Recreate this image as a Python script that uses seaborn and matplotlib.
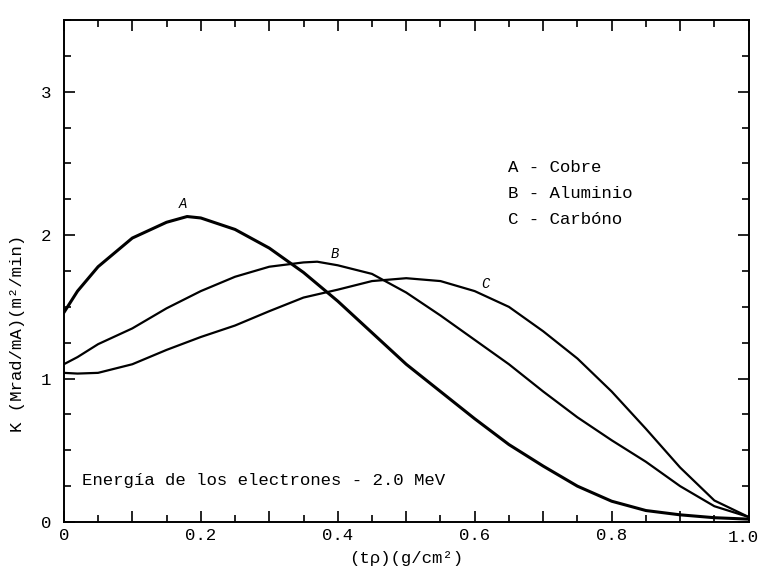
import matplotlib
matplotlib.use("Agg")
import matplotlib.pyplot as plt
from matplotlib.ticker import MultipleLocator, FuncFormatter
import pandas as pd
import seaborn as sns

# Dose rate K versus absorber depth for 2.0 MeV electrons
x_cobre = [0, 0.02, 0.05, 0.10, 0.15, 0.18, 0.20, 0.25, 0.30, 0.35, 0.40, 0.45,
           0.50, 0.55, 0.60, 0.65, 0.70, 0.75, 0.80, 0.85, 0.90, 0.95, 1.00]
k_cobre = [1.46, 1.61, 1.78, 1.98, 2.09, 2.13, 2.12, 2.04, 1.91, 1.74, 1.54, 1.32,
           1.10, 0.91, 0.72, 0.54, 0.39, 0.25, 0.145, 0.08, 0.05, 0.03, 0.02]

x_aluminio = [0, 0.02, 0.05, 0.10, 0.15, 0.20, 0.25, 0.30, 0.35, 0.37, 0.40, 0.45,
              0.50, 0.55, 0.60, 0.65, 0.70, 0.75, 0.80, 0.85, 0.90, 0.95, 1.00]
k_aluminio = [1.10, 1.15, 1.24, 1.35, 1.49, 1.61, 1.71, 1.78, 1.81, 1.815, 1.79, 1.73,
              1.60, 1.44, 1.27, 1.10, 0.91, 0.73, 0.57, 0.42, 0.25, 0.11, 0.035]

x_carbono = [0, 0.02, 0.05, 0.10, 0.15, 0.20, 0.25, 0.30, 0.35, 0.40, 0.45, 0.50,
             0.55, 0.60, 0.65, 0.70, 0.75, 0.80, 0.85, 0.90, 0.95, 1.00]
k_carbono = [1.04, 1.035, 1.04, 1.10, 1.20, 1.29, 1.37, 1.47, 1.565, 1.62, 1.68, 1.70,
             1.68, 1.61, 1.50, 1.33, 1.14, 0.91, 0.65, 0.38, 0.15, 0.035]

curve_tags = ["A", "B", "C"]
materials = ["Cobre", "Aluminio", "Carbóno"]
x_ticks_labelled = [0, 0.2, 0.4, 0.6, 0.8]
y_ticks_labelled = [0, 1, 2, 3]

sns.set_theme(style="ticks")
plt.rcParams["font.family"] = ["Liberation Mono", "DejaVu Sans Mono"]
plt.rcParams["text.color"] = "black"
plt.rcParams["axes.labelcolor"] = "black"
plt.rcParams["xtick.color"] = "black"
plt.rcParams["ytick.color"] = "black"

fig = plt.figure(figsize=(7.6, 5.73), dpi=100)
ax = fig.add_axes([0.084, 0.089, 0.901, 0.876])

series = [(x_cobre, k_cobre, 2.2), (x_aluminio, k_aluminio, 1.6), (x_carbono, k_carbono, 1.6)]
for (xs, ks, lw), tag in zip(series, curve_tags):
    df = pd.DataFrame({"depth": xs, "K": ks})
    sns.lineplot(data=df, x="depth", y="K", ax=ax, color="black", linewidth=lw,
                 sort=False, estimator=None)

ax.set_xlim(0, 1.0)
ax.set_ylim(0, 3.5)

ax.xaxis.set_major_locator(MultipleLocator(0.1))
ax.xaxis.set_minor_locator(MultipleLocator(0.05))
ax.yaxis.set_major_locator(MultipleLocator(1))
ax.yaxis.set_minor_locator(MultipleLocator(0.25))


def fmt_x(v, pos):
    for t in x_ticks_labelled:
        if abs(v - t) < 1e-6:
            return "0" if t == 0 else f"{t:.1f}"
    return ""


def fmt_y(v, pos):
    for t in y_ticks_labelled:
        if abs(v - t) < 1e-6:
            return f"{t:d}"
    return ""


ax.xaxis.set_major_formatter(FuncFormatter(fmt_x))
ax.yaxis.set_major_formatter(FuncFormatter(fmt_y))

ax.tick_params(which="both", direction="in", top=True, right=True, width=1.2)
ax.tick_params(which="major", length=8, labelsize=12.5, pad=4)
ax.tick_params(axis="y", which="major", pad=9)
ax.tick_params(which="minor", length=5)
for sp in ax.spines.values():
    sp.set_linewidth(1.4)
    sp.set_color("black")

# last x label sits just inside the right margin
ax.annotate("1.0", xy=(1.0, 0), xycoords="data", xytext=(-4, -5.5),
            textcoords="offset points", ha="center", va="top", fontsize=12.5)

ax.set_xlabel("(tρ)(g/cm²)", fontsize=12.5, labelpad=6)
ax.set_ylabel("K (Mrad/mA)(m²/min)", fontsize=12.5)
ax.yaxis.set_label_coords(-0.056, 0.375)

# curve tags
ax.text(0.174, 2.215, "A", fontsize=10, ha="center", va="center", style="italic")
ax.text(0.396, 1.87, "B", fontsize=10, ha="center", va="center", style="italic")
ax.text(0.615, 1.66, "C", fontsize=10, ha="center", va="center", style="italic")

# key
for i, (tag, name) in enumerate(zip(curve_tags, materials)):
    ax.text(0.649, 2.47 - i * 0.18, f"{tag} - {name}", fontsize=12.5,
            ha="left", va="center")

ax.text(0.026, 0.29, "Energía de los electrones - 2.0 MeV", fontsize=12.5,
        ha="left", va="center")

fig.savefig("out.png", dpi=100, facecolor="white")
